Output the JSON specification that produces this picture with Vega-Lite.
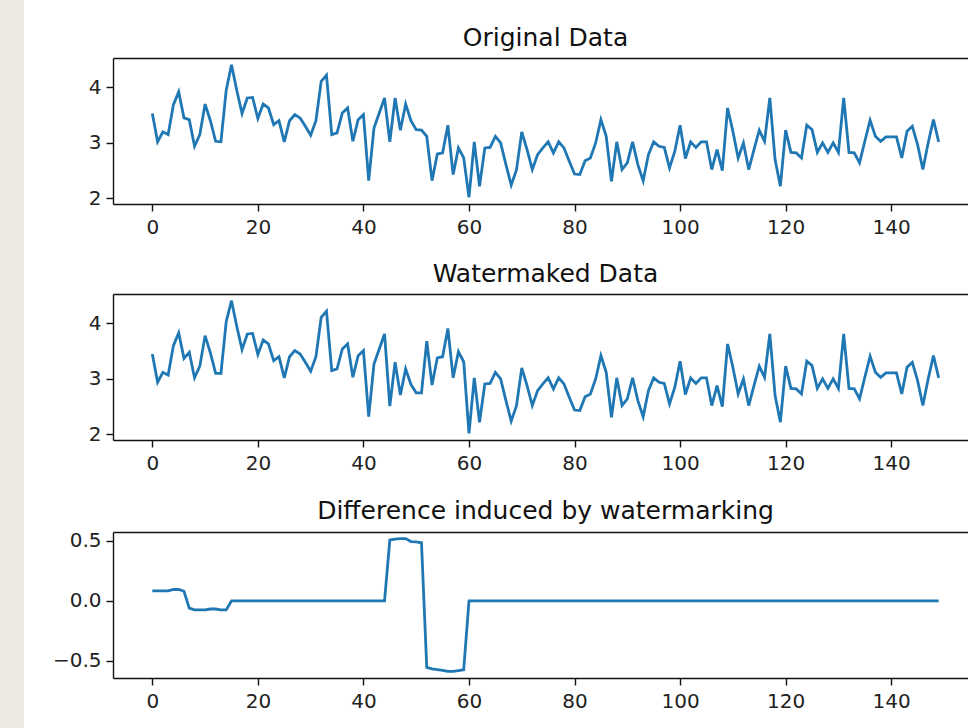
{
  "$schema": "https://vega.github.io/schema/vega-lite/v6.json",
  "background": "white",
  "padding": 0,
  "config": {
    "view": {"stroke": null},
    "font": "DejaVu Sans",
    "axis": {"labelFont": "DejaVu Sans", "labelFontSize": 20, "labelColor": "#222", "domainColor": "#111", "domainWidth": 1.4, "tickColor": "#111", "tickWidth": 1.4, "tickSize": 7, "grid": false, "title": null},
    "title": {"font": "DejaVu Sans", "fontSize": 25, "fontWeight": "normal", "color": "#111", "baseline": "alphabetic", "offset": 7, "anchor": "middle", "dx": 5}
  },
  "datasets": {
    "d": [
      {"i":0,"orig":3.53,"wm":3.45,"diff":0.083},
      {"i":1,"orig":3.02,"wm":2.94,"diff":0.083},
      {"i":2,"orig":3.2,"wm":3.12,"diff":0.083},
      {"i":3,"orig":3.15,"wm":3.07,"diff":0.083},
      {"i":4,"orig":3.69,"wm":3.6,"diff":0.095},
      {"i":5,"orig":3.92,"wm":3.83,"diff":0.095},
      {"i":6,"orig":3.45,"wm":3.37,"diff":0.08},
      {"i":7,"orig":3.42,"wm":3.48,"diff":-0.06},
      {"i":8,"orig":2.94,"wm":3.02,"diff":-0.075},
      {"i":9,"orig":3.15,"wm":3.23,"diff":-0.075},
      {"i":10,"orig":3.7,"wm":3.78,"diff":-0.075},
      {"i":11,"orig":3.4,"wm":3.47,"diff":-0.068},
      {"i":12,"orig":3.03,"wm":3.1,"diff":-0.068},
      {"i":13,"orig":3.02,"wm":3.1,"diff":-0.075},
      {"i":14,"orig":3.95,"wm":4.03,"diff":-0.075},
      {"i":15,"orig":4.41,"wm":4.41,"diff":0},
      {"i":16,"orig":3.95,"wm":3.95,"diff":0},
      {"i":17,"orig":3.53,"wm":3.53,"diff":0},
      {"i":18,"orig":3.81,"wm":3.81,"diff":0},
      {"i":19,"orig":3.82,"wm":3.82,"diff":0},
      {"i":20,"orig":3.44,"wm":3.44,"diff":0},
      {"i":21,"orig":3.7,"wm":3.7,"diff":0},
      {"i":22,"orig":3.63,"wm":3.63,"diff":0},
      {"i":23,"orig":3.33,"wm":3.33,"diff":0},
      {"i":24,"orig":3.4,"wm":3.4,"diff":0},
      {"i":25,"orig":3.02,"wm":3.02,"diff":0},
      {"i":26,"orig":3.4,"wm":3.4,"diff":0},
      {"i":27,"orig":3.51,"wm":3.51,"diff":0},
      {"i":28,"orig":3.45,"wm":3.45,"diff":0},
      {"i":29,"orig":3.3,"wm":3.3,"diff":0},
      {"i":30,"orig":3.14,"wm":3.14,"diff":0},
      {"i":31,"orig":3.4,"wm":3.4,"diff":0},
      {"i":32,"orig":4.11,"wm":4.11,"diff":0},
      {"i":33,"orig":4.22,"wm":4.22,"diff":0},
      {"i":34,"orig":3.15,"wm":3.15,"diff":0},
      {"i":35,"orig":3.18,"wm":3.18,"diff":0},
      {"i":36,"orig":3.54,"wm":3.54,"diff":0},
      {"i":37,"orig":3.63,"wm":3.63,"diff":0},
      {"i":38,"orig":3.03,"wm":3.03,"diff":0},
      {"i":39,"orig":3.42,"wm":3.42,"diff":0},
      {"i":40,"orig":3.51,"wm":3.51,"diff":0},
      {"i":41,"orig":2.32,"wm":2.32,"diff":0},
      {"i":42,"orig":3.27,"wm":3.27,"diff":0},
      {"i":43,"orig":3.54,"wm":3.54,"diff":0},
      {"i":44,"orig":3.81,"wm":3.81,"diff":0},
      {"i":45,"orig":3.02,"wm":2.51,"diff":0.508},
      {"i":46,"orig":3.81,"wm":3.3,"diff":0.515},
      {"i":47,"orig":3.23,"wm":2.71,"diff":0.52},
      {"i":48,"orig":3.7,"wm":3.18,"diff":0.52},
      {"i":49,"orig":3.4,"wm":2.9,"diff":0.495},
      {"i":50,"orig":3.24,"wm":2.75,"diff":0.493},
      {"i":51,"orig":3.23,"wm":2.75,"diff":0.485},
      {"i":52,"orig":3.12,"wm":3.68,"diff":-0.556},
      {"i":53,"orig":2.32,"wm":2.89,"diff":-0.567},
      {"i":54,"orig":2.8,"wm":3.38,"diff":-0.575},
      {"i":55,"orig":2.82,"wm":3.4,"diff":-0.58},
      {"i":56,"orig":3.32,"wm":3.91,"diff":-0.589},
      {"i":57,"orig":2.43,"wm":3.02,"diff":-0.589},
      {"i":58,"orig":2.91,"wm":3.49,"diff":-0.582},
      {"i":59,"orig":2.73,"wm":3.31,"diff":-0.575},
      {"i":60,"orig":2.02,"wm":2.02,"diff":0},
      {"i":61,"orig":3.02,"wm":3.02,"diff":0},
      {"i":62,"orig":2.22,"wm":2.22,"diff":0},
      {"i":63,"orig":2.91,"wm":2.91,"diff":0},
      {"i":64,"orig":2.92,"wm":2.92,"diff":0},
      {"i":65,"orig":3.12,"wm":3.12,"diff":0},
      {"i":66,"orig":3.0,"wm":3.0,"diff":0},
      {"i":67,"orig":2.61,"wm":2.61,"diff":0},
      {"i":68,"orig":2.24,"wm":2.24,"diff":0},
      {"i":69,"orig":2.52,"wm":2.52,"diff":0},
      {"i":70,"orig":3.2,"wm":3.2,"diff":0},
      {"i":71,"orig":2.88,"wm":2.88,"diff":0},
      {"i":72,"orig":2.52,"wm":2.52,"diff":0},
      {"i":73,"orig":2.79,"wm":2.79,"diff":0},
      {"i":74,"orig":2.91,"wm":2.91,"diff":0},
      {"i":75,"orig":3.02,"wm":3.02,"diff":0},
      {"i":76,"orig":2.82,"wm":2.82,"diff":0},
      {"i":77,"orig":3.02,"wm":3.02,"diff":0},
      {"i":78,"orig":2.91,"wm":2.91,"diff":0},
      {"i":79,"orig":2.67,"wm":2.67,"diff":0},
      {"i":80,"orig":2.44,"wm":2.44,"diff":0},
      {"i":81,"orig":2.43,"wm":2.43,"diff":0},
      {"i":82,"orig":2.68,"wm":2.68,"diff":0},
      {"i":83,"orig":2.73,"wm":2.73,"diff":0},
      {"i":84,"orig":3.0,"wm":3.0,"diff":0},
      {"i":85,"orig":3.42,"wm":3.42,"diff":0},
      {"i":86,"orig":3.12,"wm":3.12,"diff":0},
      {"i":87,"orig":2.31,"wm":2.31,"diff":0},
      {"i":88,"orig":3.02,"wm":3.02,"diff":0},
      {"i":89,"orig":2.52,"wm":2.52,"diff":0},
      {"i":90,"orig":2.64,"wm":2.64,"diff":0},
      {"i":91,"orig":3.02,"wm":3.02,"diff":0},
      {"i":92,"orig":2.61,"wm":2.61,"diff":0},
      {"i":93,"orig":2.32,"wm":2.32,"diff":0},
      {"i":94,"orig":2.79,"wm":2.79,"diff":0},
      {"i":95,"orig":3.02,"wm":3.02,"diff":0},
      {"i":96,"orig":2.94,"wm":2.94,"diff":0},
      {"i":97,"orig":2.92,"wm":2.92,"diff":0},
      {"i":98,"orig":2.55,"wm":2.55,"diff":0},
      {"i":99,"orig":2.85,"wm":2.85,"diff":0},
      {"i":100,"orig":3.32,"wm":3.32,"diff":0},
      {"i":101,"orig":2.72,"wm":2.72,"diff":0},
      {"i":102,"orig":3.02,"wm":3.02,"diff":0},
      {"i":103,"orig":2.92,"wm":2.92,"diff":0},
      {"i":104,"orig":3.02,"wm":3.02,"diff":0},
      {"i":105,"orig":3.02,"wm":3.02,"diff":0},
      {"i":106,"orig":2.52,"wm":2.52,"diff":0},
      {"i":107,"orig":2.88,"wm":2.88,"diff":0},
      {"i":108,"orig":2.5,"wm":2.5,"diff":0},
      {"i":109,"orig":3.63,"wm":3.63,"diff":0},
      {"i":110,"orig":3.21,"wm":3.21,"diff":0},
      {"i":111,"orig":2.73,"wm":2.73,"diff":0},
      {"i":112,"orig":3.0,"wm":3.0,"diff":0},
      {"i":113,"orig":2.52,"wm":2.52,"diff":0},
      {"i":114,"orig":2.88,"wm":2.88,"diff":0},
      {"i":115,"orig":3.23,"wm":3.23,"diff":0},
      {"i":116,"orig":3.03,"wm":3.03,"diff":0},
      {"i":117,"orig":3.81,"wm":3.81,"diff":0},
      {"i":118,"orig":2.7,"wm":2.7,"diff":0},
      {"i":119,"orig":2.22,"wm":2.22,"diff":0},
      {"i":120,"orig":3.23,"wm":3.23,"diff":0},
      {"i":121,"orig":2.83,"wm":2.83,"diff":0},
      {"i":122,"orig":2.82,"wm":2.82,"diff":0},
      {"i":123,"orig":2.73,"wm":2.73,"diff":0},
      {"i":124,"orig":3.32,"wm":3.32,"diff":0},
      {"i":125,"orig":3.24,"wm":3.24,"diff":0},
      {"i":126,"orig":2.83,"wm":2.83,"diff":0},
      {"i":127,"orig":3.0,"wm":3.0,"diff":0},
      {"i":128,"orig":2.83,"wm":2.83,"diff":0},
      {"i":129,"orig":3.0,"wm":3.0,"diff":0},
      {"i":130,"orig":2.83,"wm":2.83,"diff":0},
      {"i":131,"orig":3.81,"wm":3.81,"diff":0},
      {"i":132,"orig":2.83,"wm":2.83,"diff":0},
      {"i":133,"orig":2.82,"wm":2.82,"diff":0},
      {"i":134,"orig":2.64,"wm":2.64,"diff":0},
      {"i":135,"orig":3.03,"wm":3.03,"diff":0},
      {"i":136,"orig":3.41,"wm":3.41,"diff":0},
      {"i":137,"orig":3.12,"wm":3.12,"diff":0},
      {"i":138,"orig":3.03,"wm":3.03,"diff":0},
      {"i":139,"orig":3.11,"wm":3.11,"diff":0},
      {"i":140,"orig":3.11,"wm":3.11,"diff":0},
      {"i":141,"orig":3.11,"wm":3.11,"diff":0},
      {"i":142,"orig":2.73,"wm":2.73,"diff":0},
      {"i":143,"orig":3.21,"wm":3.21,"diff":0},
      {"i":144,"orig":3.3,"wm":3.3,"diff":0},
      {"i":145,"orig":2.97,"wm":2.97,"diff":0},
      {"i":146,"orig":2.52,"wm":2.52,"diff":0},
      {"i":147,"orig":3.0,"wm":3.0,"diff":0},
      {"i":148,"orig":3.42,"wm":3.42,"diff":0},
      {"i":149,"orig":3.02,"wm":3.02,"diff":0}
    ]
  },
  "hconcat": [
    {
      "width": 24,
      "height": 728,
      "data": {"values": [{}]},
      "mark": {"type": "rect", "color": "#ECE9E1"},
      "view": {"stroke": null}
    },
    {
      "vconcat": [
        {
          "width": 10,
          "height": 1,
          "data": {"values": [{}]},
          "mark": {"type": "rect", "opacity": 0},
          "view": {"stroke": null}
        },
        {
          "title": "Original Data",
          "width": 855,
          "height": 146,
          "data": {"name": "d"},
          "layer": [
            {
              "mark": {"type": "line", "color": "#1f77b4", "strokeWidth": 2.8},
              "encoding": {
                "x": {"field": "i", "type": "quantitative", "scale": {"domain": [-7.45, 154.55], "nice": false, "zero": false}, "axis": {"values": [0,20,40,60,80,100,120,140], "format": "d", "labelPadding": 6}},
                "y": {"field": "orig", "type": "quantitative", "scale": {"domain": [1.9, 4.53], "nice": false, "zero": false}, "axis": {"values": [2,3,4], "format": "d", "labelPadding": 5, "minExtent": 89, "maxExtent": 89}}
              }
            },
            {
              "mark": {"type": "line", "opacity": 0},
              "encoding": {
                "x": {"field": "i", "type": "quantitative", "axis": {"orient": "top", "labels": false, "ticks": false, "domain": true}},
                "y": {"field": "orig", "type": "quantitative"}
              }
            }
          ],
          "resolve": {"axis": {"x": "independent"}}
        },
        {
          "title": "Watermaked Data",
          "width": 855,
          "height": 146,
          "data": {"name": "d"},
          "layer": [
            {
              "mark": {"type": "line", "color": "#1f77b4", "strokeWidth": 2.8},
              "encoding": {
                "x": {"field": "i", "type": "quantitative", "scale": {"domain": [-7.45, 154.55], "nice": false, "zero": false}, "axis": {"values": [0,20,40,60,80,100,120,140], "format": "d", "labelPadding": 6}},
                "y": {"field": "wm", "type": "quantitative", "scale": {"domain": [1.9, 4.53], "nice": false, "zero": false}, "axis": {"values": [2,3,4], "format": "d", "labelPadding": 5, "minExtent": 89, "maxExtent": 89}}
              }
            },
            {
              "mark": {"type": "line", "opacity": 0},
              "encoding": {
                "x": {"field": "i", "type": "quantitative", "axis": {"orient": "top", "labels": false, "ticks": false, "domain": true}},
                "y": {"field": "wm", "type": "quantitative"}
              }
            }
          ],
          "resolve": {"axis": {"x": "independent"}}
        },
        {
          "title": "Difference induced by watermarking",
          "width": 855,
          "height": 146,
          "data": {"name": "d"},
          "layer": [
            {
              "mark": {"type": "line", "color": "#1f77b4", "strokeWidth": 2.8},
              "encoding": {
                "x": {"field": "i", "type": "quantitative", "scale": {"domain": [-7.45, 154.55], "nice": false, "zero": false}, "axis": {"values": [0,20,40,60,80,100,120,140], "format": "d", "labelPadding": 6}},
                "y": {"field": "diff", "type": "quantitative", "scale": {"domain": [-0.644, 0.575], "nice": false, "zero": false}, "axis": {"values": [-0.5,0,0.5], "format": ".1f", "labelPadding": 5, "minExtent": 89, "maxExtent": 89}}
              }
            },
            {
              "mark": {"type": "line", "opacity": 0},
              "encoding": {
                "x": {"field": "i", "type": "quantitative", "axis": {"orient": "top", "labels": false, "ticks": false, "domain": true}},
                "y": {"field": "diff", "type": "quantitative"}
              }
            }
          ],
          "resolve": {"axis": {"x": "independent"}}
        }
      ],
      "spacing": 25
    }
  ],
  "spacing": 0
}
